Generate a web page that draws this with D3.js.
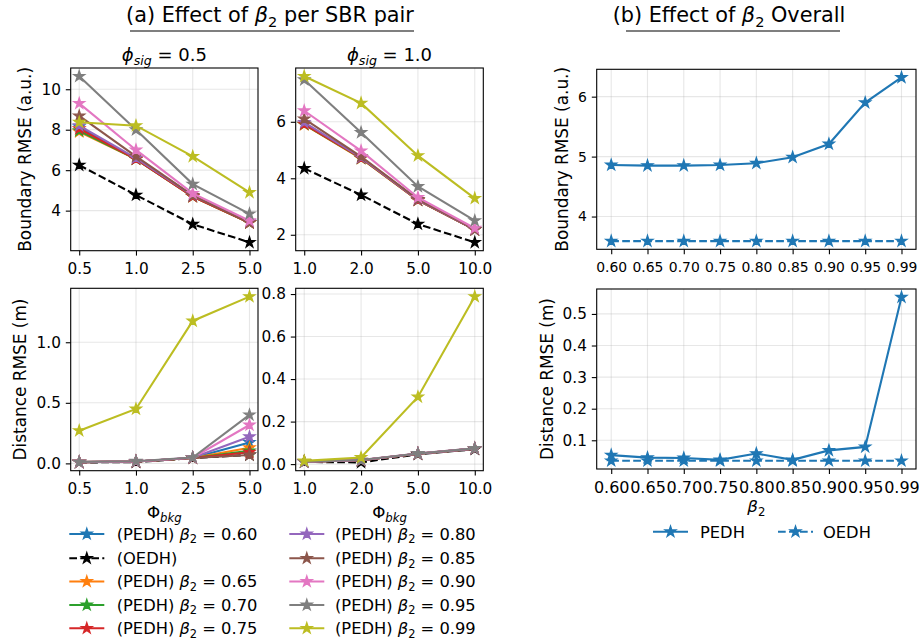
<!DOCTYPE html>
<html><head><meta charset="utf-8">
<script src="https://cdn.jsdelivr.net/npm/d3@7"></script>
<style>
body{margin:0;background:#fff}
text{font-family:"DejaVu Sans",sans-serif;fill:#000}
</style>
</head><body><svg id="c" width="919" height="644"></svg>
<script>
// ---------------- DATA ----------------
const betaLabels = ["0.60","0.65","0.70","0.75","0.80","0.85","0.90","0.95","0.99"];
const betaColors = ["#1f77b4","#ff7f0e","#2ca02c","#d62728","#9467bd","#8c564b","#e377c2","#7f7f7f","#bcbd22"];
const phiBkgA = ["0.5","1.0","2.5","5.0"];
const phiBkgB = ["1.0","2.0","5.0","10.0"];

// Boundary RMSE, phi_sig = 0.5 (PEDH rows follow betaLabels order)
const bndA_PEDH = [
  [8.15, 6.55, 4.72, 3.42],
  [7.90, 6.55, 4.70, 3.40],
  [7.95, 6.55, 4.70, 3.40],
  [8.05, 6.55, 4.70, 3.40],
  [8.20, 6.60, 4.75, 3.45],
  [8.68, 6.68, 4.75, 3.40],
  [9.30, 7.00, 4.85, 3.50],
  [10.64, 8.00, 5.31, 3.84],
  [8.37, 8.20, 6.68, 4.90]
];
const bndA_OEDH = [6.25, 4.77, 3.33, 2.43];

// Boundary RMSE, phi_sig = 1.0
const bndB_PEDH = [
  [5.92, 4.72, 3.23, 2.18],
  [5.90, 4.70, 3.22, 2.18],
  [5.91, 4.71, 3.23, 2.18],
  [5.92, 4.72, 3.23, 2.18],
  [5.98, 4.74, 3.24, 2.19],
  [6.10, 4.77, 3.25, 2.20],
  [6.39, 4.97, 3.32, 2.23],
  [7.49, 5.62, 3.71, 2.50],
  [7.61, 6.66, 4.80, 3.29]
];
const bndB_OEDH = [4.35, 3.41, 2.38, 1.73];

// Distance RMSE, phi_sig = 0.5
const dstA_PEDH = [
  [0.010, 0.015, 0.045, 0.173],
  [0.010, 0.015, 0.045, 0.129],
  [0.010, 0.015, 0.045, 0.104],
  [0.010, 0.015, 0.045, 0.092],
  [0.010, 0.015, 0.046, 0.220],
  [0.010, 0.015, 0.045, 0.069],
  [0.010, 0.016, 0.047, 0.317],
  [0.011, 0.018, 0.048, 0.400],
  [0.270, 0.449, 1.176, 1.377]
];
const dstA_OEDH = [0.008, 0.010, 0.044, 0.070];

// Distance RMSE, phi_sig = 1.0
const dstB_PEDH = [
  [0.011, 0.018, 0.049, 0.073],
  [0.011, 0.018, 0.049, 0.073],
  [0.011, 0.018, 0.049, 0.073],
  [0.011, 0.018, 0.049, 0.073],
  [0.011, 0.018, 0.049, 0.073],
  [0.011, 0.018, 0.049, 0.073],
  [0.011, 0.019, 0.050, 0.074],
  [0.011, 0.019, 0.050, 0.074],
  [0.015, 0.031, 0.316, 0.788]
];
const dstB_OEDH = [0.010, 0.008, 0.046, 0.070];

// Overall
const overallBnd_PEDH = [4.86, 4.85, 4.85, 4.86, 4.89, 4.99, 5.21, 5.90, 6.32];
const overallBnd_OEDH = [3.59, 3.59, 3.59, 3.59, 3.59, 3.59, 3.59, 3.59, 3.59];
const overallDst_PEDH = [0.053, 0.045, 0.044, 0.038, 0.058, 0.038, 0.068, 0.079, 0.553];
const overallDst_OEDH = [0.035, 0.035, 0.035, 0.035, 0.035, 0.035, 0.035, 0.035, 0.035];

// tick labels
const yTicksBndA = [4, 6, 8, 10];
const yTicksBndB = [2, 4, 6];
const yTicksDstA = [0.0, 0.5, 1.0];
const yTicksDstB = [0.0, 0.2, 0.4, 0.6, 0.8];
const yTicksOvBnd = [4, 5, 6];
const yTicksOvDst = [0.1, 0.2, 0.3, 0.4, 0.5];

// ---------------- DRAWING ----------------
const svg = d3.select("#c");
const star = d3.symbol().type(d3.symbolStar).size(36);

function autoDomain(arrs){
  const all = arrs.flat();
  const mn = d3.min(all), mx = d3.max(all), r = mx - mn;
  return [mn - 0.05*r, mx + 0.05*r];
}

function buildSeries(pedh, oedh, oedhColor){
  // plotting order: PEDH 0.60, OEDH, PEDH 0.65 ... 0.99
  const s = [];
  s.push({vals: pedh[0], color: betaColors[0], dash: null});
  s.push({vals: oedh, color: oedhColor, dash: "7.7,3.3"});
  for (let i = 1; i < pedh.length; i++) s.push({vals: pedh[i], color: betaColors[i], dash: null});
  return s;
}

function panel(cfg){
  const {x0, x1, y0, y1, xLabels, yTicks, yFmt, series, xFs, yFs} = cfg;
  const n = xLabels.length;
  const x = d3.scaleLinear().domain([-0.05*(n-1), (n-1)*1.05]).range([x0, x1]);
  const y = d3.scaleLinear().domain(autoDomain(series.map(s => s.vals))).range([y1, y0]);
  const g = svg.append("g");
  // grid
  g.append("g").selectAll("line").data(d3.range(n)).join("line")
    .attr("x1", d => x(d)).attr("x2", d => x(d)).attr("y1", y0).attr("y2", y1)
    .attr("stroke", "#b0b0b0").attr("stroke-opacity", 0.3).attr("stroke-width", 1.1);
  g.append("g").selectAll("line").data(yTicks).join("line")
    .attr("y1", d => y(d)).attr("y2", d => y(d)).attr("x1", x0).attr("x2", x1)
    .attr("stroke", "#b0b0b0").attr("stroke-opacity", 0.3).attr("stroke-width", 1.1);
  // series
  const line = d3.line().x((d, i) => x(i)).y(d => y(d));
  series.forEach(s => {
    g.append("path").attr("d", line(s.vals)).attr("fill", "none")
      .attr("stroke", s.color).attr("stroke-width", 2.1)
      .attr("stroke-dasharray", s.dash);
    g.append("g").selectAll("path").data(s.vals).join("path")
      .attr("d", star)
      .attr("transform", (d, i) => `translate(${x(i)},${y(d)})`)
      .attr("fill", s.color).attr("stroke", s.color).attr("stroke-width", 1.3);
  });
  // axes
  const ax = g.append("g").attr("transform", `translate(0,${y1})`)
    .call(d3.axisBottom(x).tickValues(d3.range(n)).tickFormat(i => xLabels[i]).tickSize(4.9).tickPadding(7.6));
  ax.select(".domain").remove();
  ax.selectAll("line").attr("stroke", "#000").attr("stroke-width", 1.1);
  ax.selectAll("text").attr("font-size", xFs).attr("font-family", "DejaVu Sans").attr("fill", "#000");
  const ay = g.append("g").attr("transform", `translate(${x0},0)`)
    .call(d3.axisLeft(y).tickValues(yTicks).tickFormat(yFmt).tickSize(4.9).tickPadding(4.9));
  ay.select(".domain").remove();
  ay.selectAll("line").attr("stroke", "#000").attr("stroke-width", 1.1);
  ay.selectAll("text").attr("font-size", yFs).attr("font-family", "DejaVu Sans").attr("fill", "#000");
  g.append("rect").attr("x", x0).attr("y", y0).attr("width", x1 - x0).attr("height", y1 - y0)
    .attr("fill", "none").attr("stroke", "#000").attr("stroke-width", 1.1);
  return {x, y};
}

const f1 = d3.format(".1f");
const f0 = d3.format("d");

// left panels
const LX0 = 70.7, LX1 = 258, MX0 = 295.7, MX1 = 483.3;
const TY0 = 68, TY1 = 250.7, BY0 = 288.3, BY1 = 470.7;
panel({x0: LX0, x1: LX1, y0: TY0, y1: TY1, xLabels: phiBkgA, yTicks: yTicksBndA, yFmt: f0,
  series: buildSeries(bndA_PEDH, bndA_OEDH, "#000"), xFs: 15.3, yFs: 15.3});
panel({x0: MX0, x1: MX1, y0: TY0, y1: TY1, xLabels: phiBkgB, yTicks: yTicksBndB, yFmt: f0,
  series: buildSeries(bndB_PEDH, bndB_OEDH, "#000"), xFs: 15.3, yFs: 15.3});
panel({x0: LX0, x1: LX1, y0: BY0, y1: BY1, xLabels: phiBkgA, yTicks: yTicksDstA, yFmt: f1,
  series: buildSeries(dstA_PEDH, dstA_OEDH, "#000"), xFs: 15.3, yFs: 15.3});
panel({x0: MX0, x1: MX1, y0: BY0, y1: BY1, xLabels: phiBkgB, yTicks: yTicksDstB, yFmt: f1,
  series: buildSeries(dstB_PEDH, dstB_OEDH, "#000"), xFs: 15.3, yFs: 15.3});

// right panels
const RX0 = 596.7, RX1 = 916;
panel({x0: RX0, x1: RX1, y0: 69.3, y1: 249.3, xLabels: betaLabels, yTicks: yTicksOvBnd, yFmt: f0,
  series: [{vals: overallBnd_PEDH, color: betaColors[0], dash: null},
           {vals: overallBnd_OEDH, color: betaColors[0], dash: "7.7,3.3"}], xFs: 13.9, yFs: 13.9});
panel({x0: RX0, x1: RX1, y0: 289, y1: 469, xLabels: betaLabels, yTicks: yTicksOvDst, yFmt: f1,
  series: [{vals: overallDst_PEDH, color: betaColors[0], dash: null},
           {vals: overallDst_OEDH, color: betaColors[0], dash: "7.7,3.3"}], xFs: 16, yFs: 15.3});

// ---------- text helpers ----------
function betaText(sel, pre, post, fs){
  const t = sel;
  if (pre) t.append("tspan").text(pre);
  t.append("tspan").attr("font-style", "italic").text("β");
  t.append("tspan").attr("font-size", fs*0.7).attr("dy", fs*0.22).text("2");
  t.append("tspan").attr("dy", -fs*0.22).text(post);
}

// main titles
const TFS = 20.8;
const ta = svg.append("text").attr("x", 270).attr("y", 22).attr("text-anchor", "middle").attr("font-size", TFS);
betaText(ta, "(a) Effect of ", " per SBR pair", TFS);
svg.append("line").attr("x1", 130).attr("x2", 414).attr("y1", 31).attr("y2", 31).attr("stroke", "#000").attr("stroke-width", 1.2);
const tb = svg.append("text").attr("x", 729).attr("y", 22).attr("text-anchor", "middle").attr("font-size", TFS);
betaText(tb, "(b) Effect of ", " Overall", TFS);
svg.append("line").attr("x1", 626).attr("x2", 840).attr("y1", 31).attr("y2", 31).attr("stroke", "#000").attr("stroke-width", 1.2);

// subplot titles
function phiSig(xc, val){
  const fs = 18;
  const t = svg.append("text").attr("x", xc).attr("y", 61).attr("text-anchor", "middle").attr("font-size", fs);
  t.append("tspan").attr("font-style", "italic").text("ϕ");
  t.append("tspan").attr("font-style", "italic").attr("font-size", fs*0.7).attr("dy", fs*0.22).text("sig");
  t.append("tspan").attr("dy", -fs*0.22).text(" = " + val);
}
phiSig((LX0 + LX1)/2, "0.5");
phiSig((MX0 + MX1)/2, "1.0");

// x labels Phi_bkg
function phiBkgLabel(xc){
  const fs = 16.7;
  const t = svg.append("text").attr("x", xc).attr("y", 518).attr("text-anchor", "middle").attr("font-size", fs);
  t.append("tspan").text("Φ");
  t.append("tspan").attr("font-style", "italic").attr("font-size", fs*0.7).attr("dy", fs*0.22).text("bkg");
}
phiBkgLabel((LX0 + LX1)/2);
phiBkgLabel((MX0 + MX1)/2);

// beta2 label
const bl = svg.append("text").attr("x", (RX0 + RX1)/2).attr("y", 512).attr("text-anchor", "middle").attr("font-size", 16.7);
betaText(bl, "", "", 16.7);

// y labels
function ylab(x, yc, txt){
  svg.append("text").attr("transform", `translate(${x},${yc}) rotate(-90)`).attr("text-anchor", "middle")
    .attr("font-size", 16.9).text(txt);
}
ylab(31, (TY0 + TY1)/2, "Boundary RMSE (a.u.)");
ylab(26, (BY0 + BY1)/2, "Distance RMSE (m)");
ylab(568, (69.3 + 249.3)/2, "Boundary RMSE (a.u.)");
ylab(553, (289 + 469)/2, "Distance RMSE (m)");

// ---------- legends ----------
function legendItem(hx0, hx1, tx, yc, color, dash, build){
  svg.append("line").attr("x1", hx0).attr("x2", hx1).attr("y1", yc).attr("y2", yc)
    .attr("stroke", color).attr("stroke-width", 2.1).attr("stroke-dasharray", dash);
  svg.append("path").attr("d", star).attr("transform", `translate(${(hx0 + hx1)/2},${yc})`)
    .attr("fill", color).attr("stroke", color).attr("stroke-width", 1.3);
  const t = svg.append("text").attr("x", tx).attr("y", yc + 5.8).attr("font-size", 16.3);
  build(t);
}
const legRows = [534, 558.3, 581.5, 605, 628.3];
const legendEntries = [
  {label: betaLabels[0], color: betaColors[0], oedh: false},
  {label: null, color: "#000", oedh: true},
  {label: betaLabels[1], color: betaColors[1]},
  {label: betaLabels[2], color: betaColors[2]},
  {label: betaLabels[3], color: betaColors[3]},
  {label: betaLabels[4], color: betaColors[4]},
  {label: betaLabels[5], color: betaColors[5]},
  {label: betaLabels[6], color: betaColors[6]},
  {label: betaLabels[7], color: betaColors[7]},
  {label: betaLabels[8], color: betaColors[8]}
];
legendEntries.forEach((e, i) => {
  const col = Math.floor(i / 5), row = i % 5;
  const hx0 = col ? 289.3 : 69.3, tx = col ? 335 : 116.7;
  legendItem(hx0, hx0 + 35, tx, legRows[row], e.color, e.oedh ? "7.7,3.3" : null, t => {
    if (e.oedh) t.text("(OEDH)");
    else betaText(t, "(PEDH) ", " = " + e.label, 16.3);
  });
});
legendItem(653, 688, 700, 531.7, betaColors[0], null, t => t.text("PEDH"));
legendItem(778, 813, 823, 531.7, betaColors[0], "7.7,3.3", t => t.text("OEDH"));
</script>
</body></html>
